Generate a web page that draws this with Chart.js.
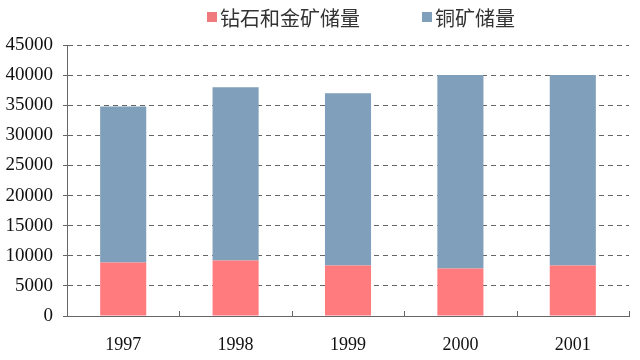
<!DOCTYPE html>
<html>
<head>
<meta charset="utf-8">
<script src="https://cdn.jsdelivr.net/npm/chart.js@4"></script>
<style>
html,body{margin:0;padding:0;background:#fff;}
#wrap{width:640px;height:360px;position:relative;}
</style>
</head>
<body>
<div id="wrap"><canvas id="c" width="640" height="360"></canvas></div>
<script>
const categories = ['1997', '1998', '1999', '2000', '2001'];
const seriesNames = ['钻石和金矿储量', '铜矿储量'];
const diamondGold = [8900, 9200, 8400, 7900, 8400];
const copper = [25900, 28800, 28600, 32100, 31600];
const yTicks = [0, 5000, 10000, 15000, 20000, 25000, 30000, 35000, 40000, 45000];

const colors = ['#FF7B7E', '#7F9FBA'];
const legendColors = ['#F0797D', '#7F9FBA'];

const customLegend = {
  id: 'customLegend',
  afterDraw(chart) {
    const ctx = chart.ctx;
    const xs = [207, 422];
    ctx.save();
    ctx.font = '20px "Noto Sans CJK SC", "Noto Sans", sans-serif';
    ctx.textBaseline = 'middle';
    ctx.textAlign = 'left';
    chart.data.datasets.forEach((ds, i) => {
      ctx.fillStyle = legendColors[i];
      ctx.fillRect(xs[i], 12, 10, 10);
      ctx.fillStyle = '#333';
      ctx.fillText(ds.label, xs[i] + 13, 18);
    });
    ctx.restore();
  }
};

const innerTicks = {
  id: 'innerTicks',
  afterDraw(chart) {
    const x = chart.scales.x;
    const ctx = chart.ctx;
    const n = chart.data.labels.length;
    const w = (x.right - x.left) / n;
    ctx.save();
    ctx.strokeStyle = '#666';
    ctx.lineWidth = 1;
    for (let i = 1; i <= n; i++) {
      const px = Math.round(x.left + w * i) + 0.5;
      ctx.beginPath();
      ctx.moveTo(px, x.top);
      ctx.lineTo(px, x.top - 5);
      ctx.stroke();
    }
    ctx.restore();
  }
};

new Chart(document.getElementById('c'), {
  type: 'bar',
  data: {
    labels: categories,
    datasets: [
      { label: seriesNames[0], data: diamondGold, backgroundColor: colors[0], barPercentage: 0.41, categoryPercentage: 1.0 },
      { label: seriesNames[1], data: copper, backgroundColor: colors[1], barPercentage: 0.41, categoryPercentage: 1.0 }
    ]
  },
  options: {
    responsive: false,
    animation: false,
    devicePixelRatio: 1,
    layout: { padding: { top: 45, right: 11, left: 0, bottom: 0 } },
    plugins: { legend: { display: false }, tooltip: { enabled: false } },
    scales: {
      x: {
        stacked: true,
        grid: { display: false, drawTicks: false },
        border: { display: true, color: '#666', width: 1 },
        ticks: { color: '#111', font: { family: '"Liberation Serif", "Times New Roman", serif', size: 18 }, padding: 18 },
        afterFit(scale) { scale.height = 44; }
      },
      y: {
        stacked: true,
        min: 0,
        max: 45000,
        afterBuildTicks(scale) { scale.ticks = yTicks.map(v => ({ value: v })); },
        grid: {
          color: '#666',
          lineWidth: 1,
          tickLength: 4,
          tickColor: '#666',
          tickBorderDash: [],
          drawTicks: true
        },
        border: { display: true, color: '#666', width: 1, dash: [5, 4] },
        ticks: {
          color: '#111',
          font: { family: '"Liberation Serif", "Times New Roman", serif', size: 19 },
          padding: 10,
          callback: (v) => String(v)
        },
        afterFit(scale) { scale.width = 67; }
      }
    }
  },
  plugins: [customLegend, innerTicks]
});
</script>
</body>
</html>
